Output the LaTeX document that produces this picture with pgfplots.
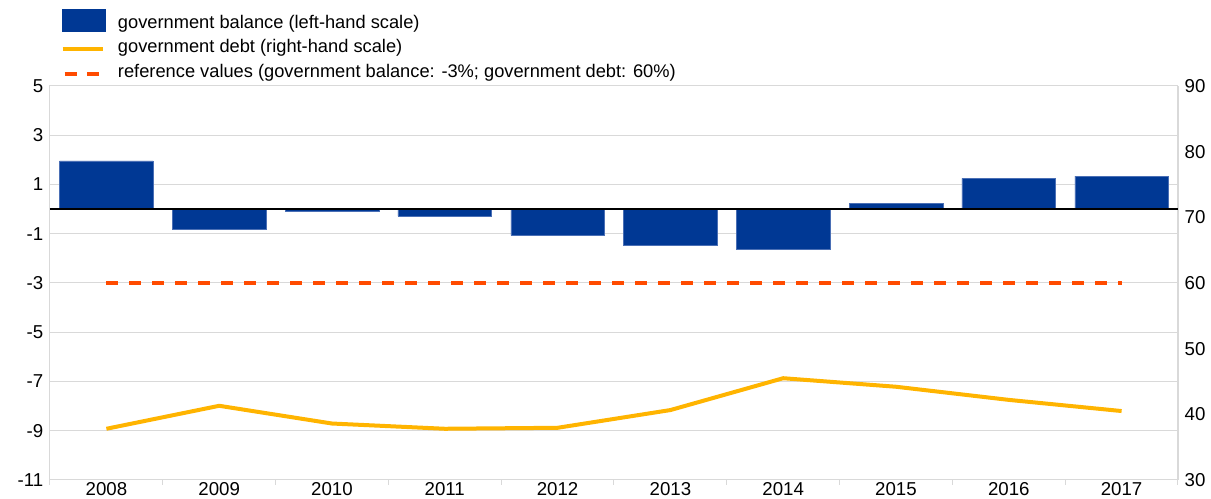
\documentclass[border=0pt]{standalone}
\usepackage{pgfplots}
\pgfplotsset{compat=1.18}
\usepackage{fontspec}
\setmainfont{Liberation Sans}
\definecolor{ecbblue}{HTML}{003894}
\definecolor{ecbedge}{HTML}{4A6FB5}
\definecolor{ecbyellow}{HTML}{FFB400}
\definecolor{ecbred}{HTML}{FF4B00}
\definecolor{gridgray}{HTML}{D9D9D9}
\newcommand{\chartfont}{\fontsize{13.7}{16}\selectfont}
\newcommand{\tickfont}{\fontsize{14}{16}\selectfont}
\begin{document}
\begin{tikzpicture}[font=\chartfont]
\useasboundingbox (-37.5pt,-14.25pt) rectangle (870.75pt,360pt);
\begin{axis}[
  at={(0pt,0pt)}, anchor=south west,
  scale only axis, width=846pt, height=295.5pt,
  xmin=-0.5, xmax=9.5, ymin=-11, ymax=5,
  ytick={-11,-9,...,5},
  xtick={0,...,9},
  xticklabels={2008,2009,2010,2011,2012,2013,2014,2015,2016,2017},
  minor xtick={-0.5,0.5,...,9.5},
  xtick pos=bottom, ytick pos=left,
  major tick length=0pt, minor tick length=3.5pt,
  tick align=outside,
  tick style={gridgray, line width=0.75pt},
  axis line style={gridgray, line width=0.75pt},
  ymajorgrids=true,
  major grid style={gridgray, line width=0.75pt},
  tick label style={font=\tickfont},
  /pgf/number format/assume math mode=true,
  yticklabel style={xshift=-1.5pt},
  xticklabel style={yshift=2pt},
  legend cell align=left,
  legend style={at={(rel axis cs:0,1)}, anchor=south west, xshift=8pt, yshift=3.25pt,
    draw=none, fill=none, inner sep=0pt, outer sep=0pt,
    row sep=6.6pt, column sep=9.8pt, font=\chartfont,
    nodes={inner sep=0pt, text height=9pt, text depth=3pt}},
]
\addplot[ybar, bar width=0.83, fill=ecbblue, draw=ecbedge, line width=0.4pt,
  legend image code/.code={\fill[ecbblue,overlay] (0pt,-5.25pt) rectangle (31.7pt,11.25pt); \path[draw=none,fill=none] (0pt,-6pt) rectangle (31.7pt,6pt);}]
  coordinates {(0,1.96) (1,-0.81) (2,-0.10) (3,-0.28) (4,-1.07) (5,-1.46) (6,-1.63) (7,0.24) (8,1.25) (9,1.34)};
\addlegendentry{government balance (left-hand scale)}
\addlegendimage{legend image code/.code={\draw[ecbyellow, line width=3pt, solid] (0pt,0pt) -- (30pt,0pt); \path[draw=none,fill=none] (0pt,-6pt) rectangle (31.7pt,6pt);}}
\addlegendentry{government debt (right-hand scale)}
\addplot[ecbred, line width=3pt, dash pattern=on 8.8pt off 8.45pt,
  legend image code/.code={\draw[ecbred, line width=3pt, solid] (1.5pt,0pt) -- (10.5pt,0pt) (18.3pt,0pt) -- (27.3pt,0pt); \path[draw=none,fill=none] (0pt,-6pt) rectangle (31.7pt,6pt);}]
  coordinates {(0,-3) (9,-3)};
\addlegendentry{reference values (government balance: -3\%; government debt: 60\%)}
\addplot[black, line width=1pt, forget plot] coordinates {(-0.5,0) (9.5,0)};
\end{axis}
\begin{axis}[
  at={(0pt,0pt)}, anchor=south west,
  scale only axis, width=846pt, height=295.5pt,
  xmin=-0.5, xmax=9.5, ymin=30, ymax=90,
  ytick={30,40,...,90},
  axis x line=none, axis y line*=right,
  major tick length=0pt,
  axis line style={gridgray, line width=0.75pt},
  tick label style={font=\tickfont},
  /pgf/number format/assume math mode=true,
  yticklabel style={xshift=1.5pt},
]
\addplot[ecbyellow, line width=3pt] coordinates {(0,37.8) (1,41.3) (2,38.6) (3,37.8) (4,37.95) (5,40.65) (6,45.5) (7,44.2) (8,42.2) (9,40.5)};
\end{axis}
\end{tikzpicture}
\end{document}
